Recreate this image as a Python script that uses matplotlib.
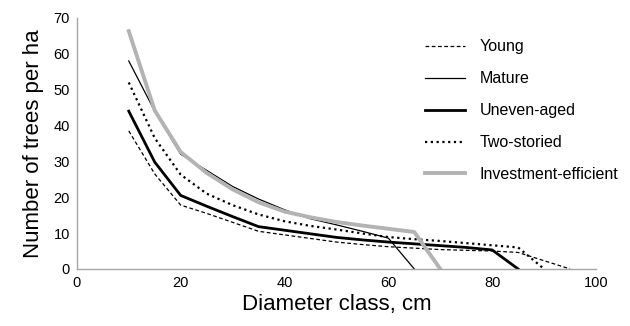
import matplotlib
matplotlib.use("Agg")
import matplotlib.pyplot as plt

plt.rcParams['font.family'] = ['Liberation Sans', 'DejaVu Sans']

diam_young = [10, 15, 20, 25, 30, 35, 40, 45, 50, 55, 60, 65, 70, 75, 80, 85, 90, 95]
young = [38.5, 26.5, 17.8, 15.5, 13, 10.5, 9.5, 8.5, 7.5, 6.8, 6.2, 5.8, 5.4, 5.2, 5.0, 4.6, 2.3, 0]

diam_mature = [10, 15, 20, 25, 30, 35, 40, 45, 50, 55, 60, 65]
mature = [58, 44, 32, 27.5, 23, 19.5, 16.5, 14, 12.3, 10.5, 8.6, 0]

diam_uneven = [10, 15, 20, 25, 30, 35, 40, 45, 50, 55, 60, 65, 70, 75, 80, 85]
uneven = [44, 29.8, 20.5, 17.5, 14.6, 11.8, 10.8, 9.8, 8.8, 8.1, 7.5, 7.0, 6.5, 6.0, 5.3, 0]

diam_two = [10, 15, 20, 25, 30, 35, 40, 45, 50, 55, 60, 65, 70, 75, 80, 85, 90]
two_storied = [52, 36.5, 26.3, 21, 17.8, 15.2, 13.3, 12, 11, 9.9, 8.9, 8.3, 7.8, 7.2, 6.6, 6.0, 0]

diam_invest = [10, 15, 20, 25, 30, 35, 40, 45, 50, 55, 60, 65, 70]
invest = [66.3, 44.2, 32.6, 26.8, 22.2, 18.6, 16.0, 14.4, 13.1, 12.1, 11.2, 10.3, 0]

labels = ["Young", "Mature", "Uneven-aged", "Two-storied", "Investment-efficient"]

fig = plt.figure(figsize=(6.30, 3.26), dpi=100)
ax = fig.add_axes([0.122, 0.175, 0.824, 0.77])

ax.plot(diam_young, young, color='black', lw=0.9, linestyle=(0, (3, 2)), label=labels[0])
ax.plot(diam_mature, mature, color='black', lw=0.9, label=labels[1])
ax.plot(diam_uneven, uneven, color='black', lw=2.0, label=labels[2])
ax.plot(diam_two, two_storied, color='black', lw=1.6, linestyle=(0, (1, 1.6)), label=labels[3])
ax.plot(diam_invest, invest, color='#b3b3b3', lw=2.8, label=labels[4])

ax.set_xlim(0, 100)
ax.set_ylim(0, 70)
ax.set_xticks(range(0, 101, 20))
ax.set_yticks(range(0, 71, 10))
ax.tick_params(length=0, labelsize=10.5, pad=5)
for s in ['top', 'right']:
    ax.spines[s].set_visible(False)
for s in ['left', 'bottom']:
    ax.spines[s].set_color('#a6a6a6')
    ax.spines[s].set_linewidth(1.0)

ax.set_xlabel("Diameter class, cm", fontsize=16, labelpad=3)
ax.set_ylabel("Number of trees per ha", fontsize=16, labelpad=7)

leg = ax.legend(loc='upper left', bbox_to_anchor=(0.643, 0.972), frameon=False,
                fontsize=11.5, handlelength=2.5, handletextpad=0.9, labelspacing=1.06)

fig.savefig("out.png", dpi=100)
